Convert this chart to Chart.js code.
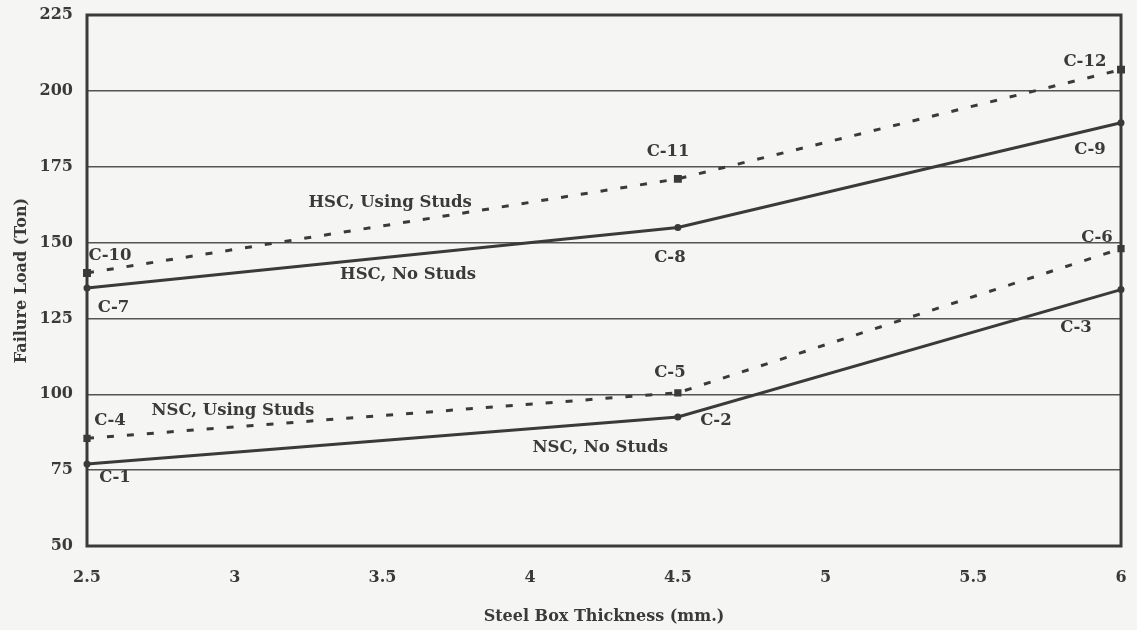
<!DOCTYPE html>
<html>
<head>
<meta charset="utf-8">
<script src="https://cdn.jsdelivr.net/npm/chart.js@4.4.1/dist/chart.umd.min.js"></script>
<style>
  html, body { margin: 0; padding: 0; background: #f5f5f3; }
  #wrap { width: 1137px; height: 630px; position: relative; }
</style>
</head>
<body>
<div id="wrap"><canvas id="c" width="1137" height="630"></canvas></div>
<script>
// ---- data ----
const thickness = [2.5, 4.5, 6];
const hscUsingStuds = [140, 171, 207];
const hscNoStuds = [135, 155, 189.5];
const nscUsingStuds = [85.5, 100.5, 148];
const nscNoStuds = [77, 92.5, 134.5];
const xTicks = [2.5, 3, 3.5, 4, 4.5, 5, 5.5, 6];
const yTicks = [50, 75, 100, 125, 150, 175, 200, 225];

// text labels in data coordinates
const labelText = ['C-10','C-7','HSC, Using Studs','HSC, No Studs','C-11','C-8','C-12','C-9','C-6','C-3','C-5','C-2','NSC, Using Studs','NSC, No Studs','C-4','C-1'];
const labelX    = [2.578, 2.59, 3.526, 3.587, 4.467, 4.473, 5.878, 5.895, 5.919, 5.848, 4.473, 4.629, 2.994, 4.237, 2.578, 2.595];
const labelY    = [145.6, 128.4, 163, 139.3, 179.8, 144.9, 209.5, 180.5, 151.5, 121.8, 107, 91.2, 94.5, 82.3, 91.2, 72.4];

const INK = '#3a3a3a';
const SERIF = '"DejaVu Serif", "Liberation Serif", serif';

function pts(ys) { return thickness.map((x, i) => ({x: x, y: ys[i]})); }

const bgPlugin = {
  id: 'bg',
  beforeDraw(chart) {
    const ctx = chart.ctx;
    ctx.save();
    ctx.fillStyle = '#f5f5f3';
    ctx.fillRect(0, 0, chart.width, chart.height);
    ctx.restore();
  }
};

const framePlugin = {
  id: 'frame',
  afterDatasetsDraw(chart) {
    const {ctx, chartArea: a, scales} = chart;
    ctx.save();
    ctx.strokeStyle = INK;
    ctx.lineWidth = 3;
    ctx.strokeRect(a.left, a.top, a.right - a.left, a.bottom - a.top);
    ctx.fillStyle = INK;
    ctx.font = 'bold 16.5px ' + SERIF;
    ctx.textAlign = 'center';
    ctx.textBaseline = 'middle';
    labelText.forEach((t, i) => {
      ctx.fillText(t, scales.x.getPixelForValue(labelX[i]), scales.y.getPixelForValue(labelY[i]));
    });
    ctx.restore();
  }
};

new Chart(document.getElementById('c'), {
  type: 'line',
  data: {
    datasets: [
      { label: 'HSC, Using Studs', data: pts(hscUsingStuds), borderColor: INK, backgroundColor: INK,
        borderWidth: 3, borderDash: [7, 13], pointStyle: 'rect', pointRadius: 3.5, tension: 0 },
      { label: 'HSC, No Studs', data: pts(hscNoStuds), borderColor: INK, backgroundColor: INK,
        borderWidth: 3, pointRadius: 2, tension: 0 },
      { label: 'NSC, Using Studs', data: pts(nscUsingStuds), borderColor: INK, backgroundColor: INK,
        borderWidth: 3, borderDash: [7, 13], pointStyle: 'rect', pointRadius: 3, tension: 0 },
      { label: 'NSC, No Studs', data: pts(nscNoStuds), borderColor: INK, backgroundColor: INK,
        borderWidth: 3, pointRadius: 2, tension: 0 }
    ]
  },
  options: {
    responsive: false,
    animation: false,
    devicePixelRatio: 1,
    clip: false,
    layout: { padding: { left: 8, right: 16, top: 15, bottom: 0 } },
    plugins: { legend: { display: false }, tooltip: { enabled: false } },
    scales: {
      x: {
        type: 'linear', min: xTicks[0], max: xTicks[xTicks.length - 1],
        afterFit(s) { s.height = 84; },
        afterBuildTicks(s) { s.ticks = xTicks.map(v => ({value: v})); },
        grid: { display: true, drawOnChartArea: false, drawTicks: true, tickLength: 22, tickColor: 'rgba(0,0,0,0)' },
        border: { display: false },
        ticks: { padding: 0, color: INK, font: { family: SERIF, size: 16, weight: 'bold' },
                 callback: v => String(v), maxRotation: 0, autoSkip: false },
        title: { display: true, text: 'Steel Box Thickness (mm.)', color: INK,
                 font: { family: SERIF, size: 16, weight: 'bold' }, padding: { top: 12 } }
      },
      y: {
        type: 'linear', min: yTicks[0], max: yTicks[yTicks.length - 1],
        afterFit(s) { s.width = 79; },
        afterBuildTicks(s) { s.ticks = yTicks.map(v => ({value: v})); },
        grid: { color: '#555', lineWidth: 1.5, drawTicks: true, tickLength: 14, tickColor: 'rgba(0,0,0,0)' },
        border: { display: false },
        ticks: { padding: 0, color: INK, font: { family: SERIF, size: 16, weight: 'bold' } },
        title: { display: true, text: 'Failure Load (Ton)', color: INK,
                 font: { family: SERIF, size: 16, weight: 'bold' }, padding: { bottom: 4 } }
      }
    }
  },
  plugins: [bgPlugin, framePlugin]
});
</script>
</body>
</html>
